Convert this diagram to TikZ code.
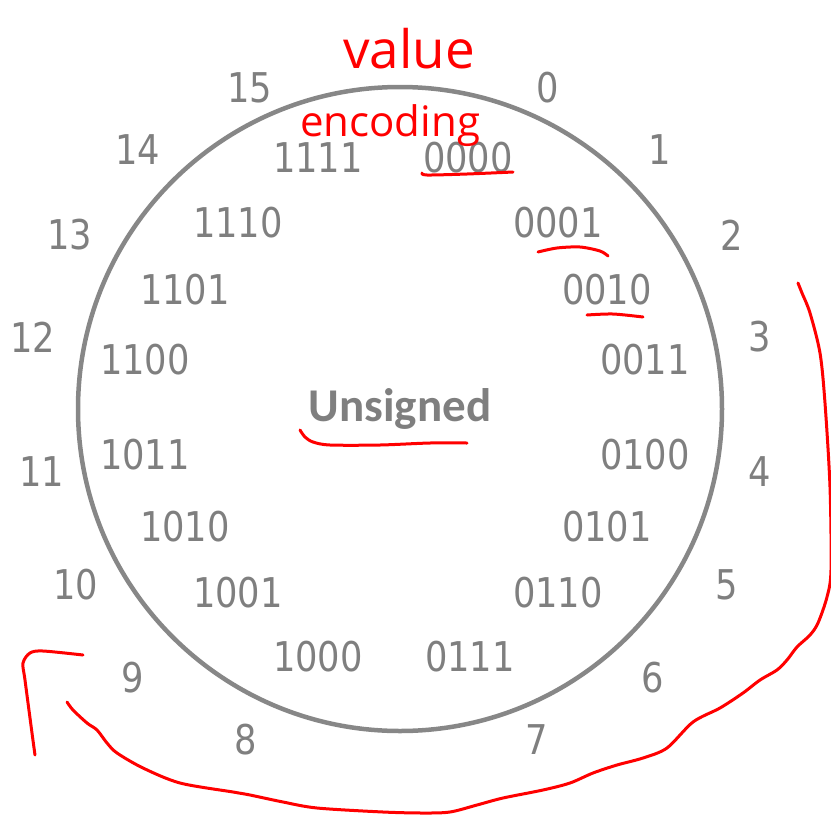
\documentclass[tikz,border=0pt]{standalone}
\usepackage{fontspec}
\setmainfont{DejaVu Sans}
\newfontfamily\numfont[FakeStretch=0.86]{DejaVu Sans}
\newfontfamily\labelfont{Carlito}
\newfontfamily\handfont{Open Sans}
\usetikzlibrary{positioning}
\definecolor{textGray}{HTML}{7F7F7F}
\definecolor{ringGray}{HTML}{878787}
\definecolor{penRed}{HTML}{FF0000}
\tikzset{
    valnum/.style={text=textGray,inner sep=0pt,font=\numfont\fontsize{41}{41}\selectfont},
    codenum/.style={text=textGray,inner sep=0pt,font=\numfont\fontsize{41}{41}\selectfont},
    ring/.style={circle,draw=ringGray,line width=4.5pt,minimum size=644pt,inner sep=0pt},
    modelabel/.style={text=textGray,inner sep=0pt,font=\labelfont\bfseries\fontsize{47}{47}\selectfont},
    handnote/.style={text=penRed,inner sep=0pt,anchor=base west},
    pen/.style={draw=penRed,line width=3pt,line cap=round,line join=round}
}
\begin{document}
\begin{tikzpicture}[x=1pt,y=-1pt]
    \useasboundingbox (0,0) rectangle (831,815);
    \node[ring] (wheel) at (400,409) {};
    \node[modelabel] (mode) at (400,409) {Unsigned};
    % values round the outside, codes on the inside
    \foreach \idx/\code/\vx/\vy/\cx/\cy in {
        0/0000/548/88/468/158, 1/0001/660/150/558/223, 2/0010/732/235/607/290,
        3/0011/760/337/645/360, 4/0100/760/472/645/455, 5/0101/727/585/607/527,
        6/0110/653/678/558/593, 7/0111/537/740/470/657, 8/1000/246/740/318/657,
        9/1001/133/678/238/593, 10/1010/76/585/185/527, 11/1011/42/472/145/455,
        12/1100/33/337/145/360, 13/1101/70/235/185/290, 14/1110/138/150/238/223,
        15/1111/250/88/318/158} {
        \node[valnum] (v\idx) at (\vx,\vy) {\idx};
        \node[codenum] (c\idx) at (\cx,\cy) {\code};
    }
    % handwritten notes
    \node[handnote,font=\handfont\fontsize{53}{53}\selectfont] (value) at (343,68) {value};
    \node[handnote,font=\handfont\fontsize{42}{42}\selectfont] (encoding) at (300,136) {encoding};
    \draw[pen] plot[smooth] coordinates {(422,173) (427,175) (467,174) (513,172)};
    \draw[pen] plot[smooth] coordinates {(538,252) (557,248) (580,247) (600,251) (608,256)};
    \draw[pen] plot[smooth] coordinates {(587,315) (613,314) (643,317)};
    \draw[pen] plot[smooth] coordinates {(300,430) (305,437) (313,442) (330,445) (380,445) (430,443) (467,443)};
    \draw[pen] plot[smooth,tension=0.5] coordinates {(798,283) (802,293) (810,313) (820,353) (825,403)
        (830,487) (831,570) (827,597) (818,623) (810,635) (797,647) (787,660) (777,670) (760,680)
        (743,693) (720,708) (693,722) (667,748) (643,758) (617,765) (593,773) (570,783) (543,790)
        (503,798) (477,805) (450,812) (423,813) (383,812) (317,808) (283,802) (250,795) (233,792)
        (180,783) (143,768) (117,753) (107,743) (97,730) (87,723) (73,710) (67,702)};
    \draw[pen] plot[smooth,tension=0.5] coordinates {(83,655) (43,651) (30,653) (23,663) (25,680) (32,733) (35,755)};
\end{tikzpicture}
\end{document}
